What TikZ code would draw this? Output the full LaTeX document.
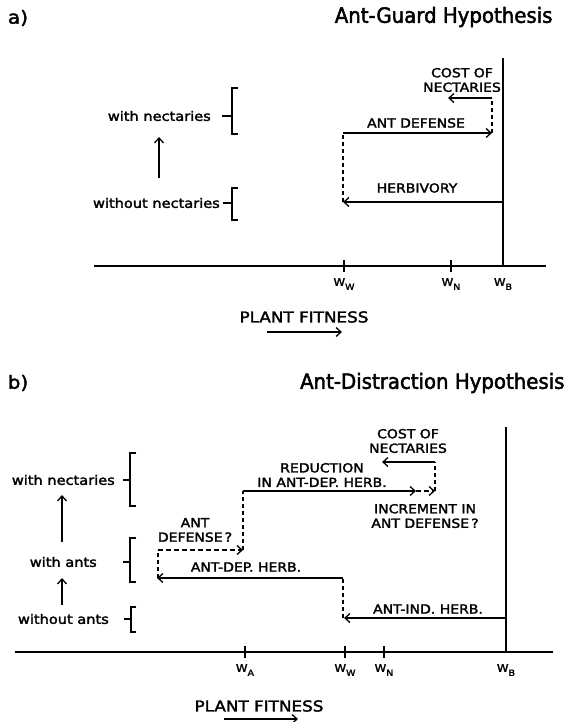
\documentclass[tikz,border=0pt]{standalone}
\usepackage{fontspec}
\setmainfont{DejaVu Sans}[FakeStretch=1.12, FakeBold=2.2]
\newfontfamily\hypfam{DejaVu Sans}[FakeStretch=0.94, FakeBold=2.2]
\usetikzlibrary{arrows.meta}

\newcommand{\hypfont}{\hypfam\fontsize{21}{23}\selectfont}
\newcommand{\tagfont}{\fontsize{18}{20}\selectfont}
\newcommand{\statefont}{\fontsize{13}{15}\selectfont}
\newcommand{\capfont}{\fontsize{12.5}{14.5}\selectfont}
\newcommand{\fitfont}{\fontsize{15}{17}\selectfont}
\newcommand{\wfont}{\fontsize{10.5}{12}\selectfont}
\newcommand{\wsub}[1]{W\raisebox{-4pt}{\fontsize{8.5}{9}\selectfont #1}}

\tikzset{
  fitarrow/.style={-{Straight Barb[length=5pt,width=9pt]}, line width=1.3pt},
  dasharrow/.style={fitarrow, dash pattern=on 5pt off 3pt},
  dashline/.style={line width=1.1pt, dash pattern=on 4pt off 3pt},
  axisline/.style={line width=1.5pt},
  caplabel/.style={font=\capfont, align=center, inner sep=0pt},
  statelabel/.style={font=\statefont, anchor=east, inner sep=0pt},
  wlabel/.style={font=\wfont, inner sep=0pt},
  bracket/.style={line width=1.1pt}
}

\begin{document}
\begin{tikzpicture}[x=1pt,y=-1pt]
\useasboundingbox (0,0) rectangle (586,722);

%%%%% a) Ant-Guard Hypothesis
\node[font=\tagfont] (tagA) at (18,18) {a)};
\node[font=\hypfont, anchor=east] (titleA) at (556,17) {Ant-Guard Hypothesis};

% Draw axes
\coordinate (axAl) at (94,266);
\coordinate (axAr) at (546,266);
\coordinate (wbA) at (503,266);
\coordinate (topA) at (503,58);
\draw[axisline] (axAl) -- (axAr);
\draw[axisline] (wbA) -- (topA);
\foreach \x in {344,451} \draw[axisline] (\x,260) -- (\x,272);
\foreach \x/\s in {344/W,451/N,503/B} \node[wlabel] (wA\s) at (\x,284) {\wsub{\s}};

\node[font=\fitfont] (fitA) at (304,317) {PLANT FITNESS};
\coordinate (fitA0) at (267,332);
\coordinate (fitA1) at (342,332);
\draw[fitarrow] (fitA0) -- (fitA1);

% Draw fitness steps
\coordinate (herbA0) at (503,202);
\coordinate (herbA1) at (343,202);
\coordinate (defA0) at (343,133);
\coordinate (defA1) at (492,133);
\coordinate (costA0) at (492,98);
\coordinate (costA1) at (448,98);
\draw[fitarrow] (herbA0) -- (herbA1);
\draw[dashline] (herbA1) -- (defA0);
\draw[fitarrow] (defA0) -- (defA1);
\draw[dashline] (defA1) -- (costA0);
\draw[fitarrow] (costA0) -- (costA1);

% Label steps
\node[caplabel] (costA) at (462,80) {COST OF\\NECTARIES};
\node[caplabel] (antdefA) at (416,123) {ANT DEFENSE};
\node[caplabel] (herbA) at (417,188) {HERBIVORY};

% States on the left
\node[statelabel] (withnecA) at (211,116) {with nectaries};
\node[statelabel] (withoutnecA) at (220,203) {without nectaries};
\draw[bracket] (238,88) -- (232,88) -- (232,134) -- (238,134);
\draw[bracket] (222,116) -- (232,116);
\draw[bracket] (238,188) -- (232,188) -- (232,220) -- (238,220);
\draw[bracket] (223,203) -- (232,203);
\coordinate (upA0) at (159,178);
\coordinate (upA1) at (159,137);
\draw[fitarrow] (upA0) -- (upA1);

%%%%% b) Ant-Distraction Hypothesis
\node[font=\tagfont] (tagB) at (18,383) {b)};
\node[font=\hypfont, anchor=east] (titleB) at (568,383) {Ant-Distraction Hypothesis};

% Draw axes
\coordinate (axBl) at (15,652);
\coordinate (axBr) at (553,652);
\coordinate (wbB) at (506,652);
\coordinate (topB) at (506,427);
\draw[axisline] (axBl) -- (axBr);
\draw[axisline] (wbB) -- (topB);
\foreach \x in {245,345,384} \draw[axisline] (\x,646) -- (\x,658);
\foreach \x/\s in {245/A,345/W,384/N,506/B} \node[wlabel] (wB\s) at (\x,670) {\wsub{\s}};

\node[font=\fitfont] (fitB) at (259,706) {PLANT FITNESS};
\coordinate (fitB0) at (224,719);
\coordinate (fitB1) at (298,719);
\draw[fitarrow] (fitB0) -- (fitB1);

% Draw fitness steps
\coordinate (indB0) at (506,618);
\coordinate (indB1) at (344,618);
\coordinate (depB0) at (343,578);
\coordinate (depB1) at (157,578);
\coordinate (adB0) at (158,550);
\coordinate (adB1) at (243,550);
\coordinate (redB0) at (243,491);
\coordinate (redB1) at (416,491);
\coordinate (incB1) at (435,491);
\coordinate (costB0) at (435,462);
\coordinate (costB1) at (382,462);
\draw[fitarrow] (indB0) -- (indB1);
\draw[dashline] (indB1 -| depB0) -- (depB0);
\draw[fitarrow] (depB0) -- (depB1);
\draw[dashline] (depB1 -| adB0) -- (adB0);
\draw[dasharrow] (adB0) -- (adB1);
\draw[dashline] (adB1) -- (redB0);
\draw[fitarrow] (redB0) -- (redB1);
\draw[dasharrow] (redB1) -- (incB1);
\draw[dashline] (incB1) -- (costB0);
\draw[fitarrow] (costB0) -- (costB1);

% Label steps
\node[caplabel] (costB) at (408,441) {COST OF\\NECTARIES};
\node[caplabel] (redB) at (322,475) {REDUCTION\\IN ANT-DEP. HERB.};
\node[caplabel] (incB) at (425,516) {INCREMENT IN\\ANT DEFENSE\,?};
\node[caplabel] (adB) at (195,530) {ANT\\DEFENSE\,?};
\node[caplabel] (depB) at (246,567) {ANT-DEP. HERB.};
\node[caplabel] (indB) at (428,609) {ANT-IND. HERB.};

% States on the left
\node[statelabel] (withnecB) at (115,480) {with nectaries};
\node[statelabel] (withantsB) at (97,562) {with ants};
\node[statelabel] (withoutantsB) at (109,619) {without ants};
\draw[bracket] (136,453) -- (130,453) -- (130,506) -- (136,506);
\draw[bracket] (123,480) -- (130,480);
\draw[bracket] (136,538) -- (130,538) -- (130,582) -- (136,582);
\draw[bracket] (123,562) -- (130,562);
\draw[bracket] (136,607) -- (131,607) -- (131,632) -- (136,632);
\draw[bracket] (124,619) -- (131,619);
\coordinate (upB0) at (62,542);
\coordinate (upB1) at (62,495);
\coordinate (upB2) at (62,605);
\coordinate (upB3) at (62,578);
\draw[fitarrow] (upB0) -- (upB1);
\draw[fitarrow] (upB2) -- (upB3);
\end{tikzpicture}
\end{document}
